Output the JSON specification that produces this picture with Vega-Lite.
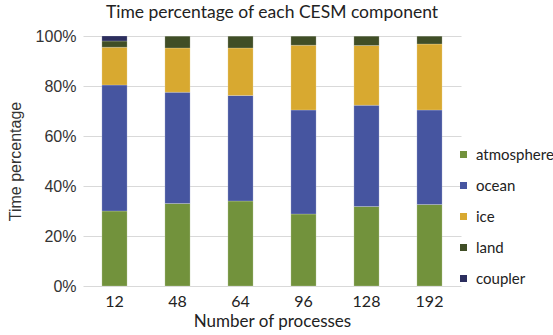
{
  "$schema": "https://vega.github.io/schema/vega-lite/v6.json",
  "width": 378,
  "height": 250,
  "autosize": {"type": "none"},
  "padding": {"left": 83, "top": 36, "right": 92, "bottom": 49},
  "background": "white",
  "title": {
    "text": "Time percentage of each CESM component",
    "font": "Lato",
    "fontSize": 17.5,
    "fontWeight": "normal",
    "color": "#222222",
    "anchor": "middle",
    "offset": 7
  },
  "data": {
    "values": [
      {"procs": "12", "component": "atmosphere", "pct": 30.0},
      {"procs": "12", "component": "ocean", "pct": 50.4},
      {"procs": "12", "component": "ice", "pct": 15.1},
      {"procs": "12", "component": "land", "pct": 2.5},
      {"procs": "12", "component": "coupler", "pct": 2.0},
      {"procs": "48", "component": "atmosphere", "pct": 33.0},
      {"procs": "48", "component": "ocean", "pct": 44.5},
      {"procs": "48", "component": "ice", "pct": 17.7},
      {"procs": "48", "component": "land", "pct": 4.8},
      {"procs": "48", "component": "coupler", "pct": 0.0},
      {"procs": "64", "component": "atmosphere", "pct": 34.0},
      {"procs": "64", "component": "ocean", "pct": 42.2},
      {"procs": "64", "component": "ice", "pct": 19.0},
      {"procs": "64", "component": "land", "pct": 4.8},
      {"procs": "64", "component": "coupler", "pct": 0.0},
      {"procs": "96", "component": "atmosphere", "pct": 28.8},
      {"procs": "96", "component": "ocean", "pct": 41.6},
      {"procs": "96", "component": "ice", "pct": 25.9},
      {"procs": "96", "component": "land", "pct": 3.7},
      {"procs": "96", "component": "coupler", "pct": 0.0},
      {"procs": "128", "component": "atmosphere", "pct": 31.8},
      {"procs": "128", "component": "ocean", "pct": 40.5},
      {"procs": "128", "component": "ice", "pct": 23.9},
      {"procs": "128", "component": "land", "pct": 3.8},
      {"procs": "128", "component": "coupler", "pct": 0.0},
      {"procs": "192", "component": "atmosphere", "pct": 32.6},
      {"procs": "192", "component": "ocean", "pct": 37.8},
      {"procs": "192", "component": "ice", "pct": 26.4},
      {"procs": "192", "component": "land", "pct": 3.2},
      {"procs": "192", "component": "coupler", "pct": 0.0}
    ]
  },
  "transform": [
    {
      "calculate": "indexof(['atmosphere','ocean','ice','land','coupler'], datum.component)",
      "as": "stackOrder"
    }
  ],
  "mark": {"type": "bar", "stroke": "#ffffff", "strokeOpacity": 0.25, "strokeWidth": 0.8},
  "encoding": {
    "x": {
      "field": "procs",
      "type": "ordinal",
      "sort": ["12", "48", "64", "96", "128", "192"],
      "scale": {"paddingInner": 0.6, "paddingOuter": 0.3},
      "axis": {
        "title": "Number of processes",
        "labelAngle": 0,
        "labelFont": "Lato",
        "labelFontSize": 16,
        "labelColor": "#222222",
        "labelPadding": 7,
        "ticks": false,
        "domain": false,
        "titleFont": "Lato",
        "titleFontSize": 17,
        "titleFontWeight": "normal",
        "titleColor": "#222222",
        "titlePadding": 4
      }
    },
    "y": {
      "field": "pct",
      "type": "quantitative",
      "stack": "normalize",
      "scale": {"domain": [0, 1]},
      "axis": {
        "title": "Time percentage",
        "format": ".0%",
        "values": [0, 0.2, 0.4, 0.6, 0.8, 1],
        "labelFont": "Liberation Sans",
        "labelFontSize": 16,
        "labelColor": "#333333",
        "labelPadding": 7,
        "ticks": false,
        "domain": false,
        "grid": true,
        "gridColor": "#d9d9d9",
        "gridWidth": 1,
        "titleFont": "Liberation Sans",
        "titleFontSize": 16,
        "titleFontWeight": "normal",
        "titleColor": "#333333",
        "titlePadding": 12
      }
    },
    "color": {
      "field": "component",
      "type": "nominal",
      "sort": ["atmosphere", "ocean", "ice", "land", "coupler"],
      "scale": {
        "domain": ["atmosphere", "ocean", "ice", "land", "coupler"],
        "range": ["#72923c", "#4655a0", "#d8a930", "#404e26", "#2c2e5e"]
      },
      "legend": {
        "title": null,
        "orient": "none",
        "legendX": 373,
        "legendY": 111,
        "symbolType": "square",
        "symbolSize": 49,
        "symbolStrokeWidth": 0,
        "labelFont": "Lato",
        "labelFontSize": 15,
        "labelColor": "#222222",
        "labelOffset": 5,
        "rowPadding": 15,
        "labelLimit": 200
      }
    },
    "order": {"field": "stackOrder", "type": "quantitative"}
  },
  "config": {"view": {"stroke": null}}
}
